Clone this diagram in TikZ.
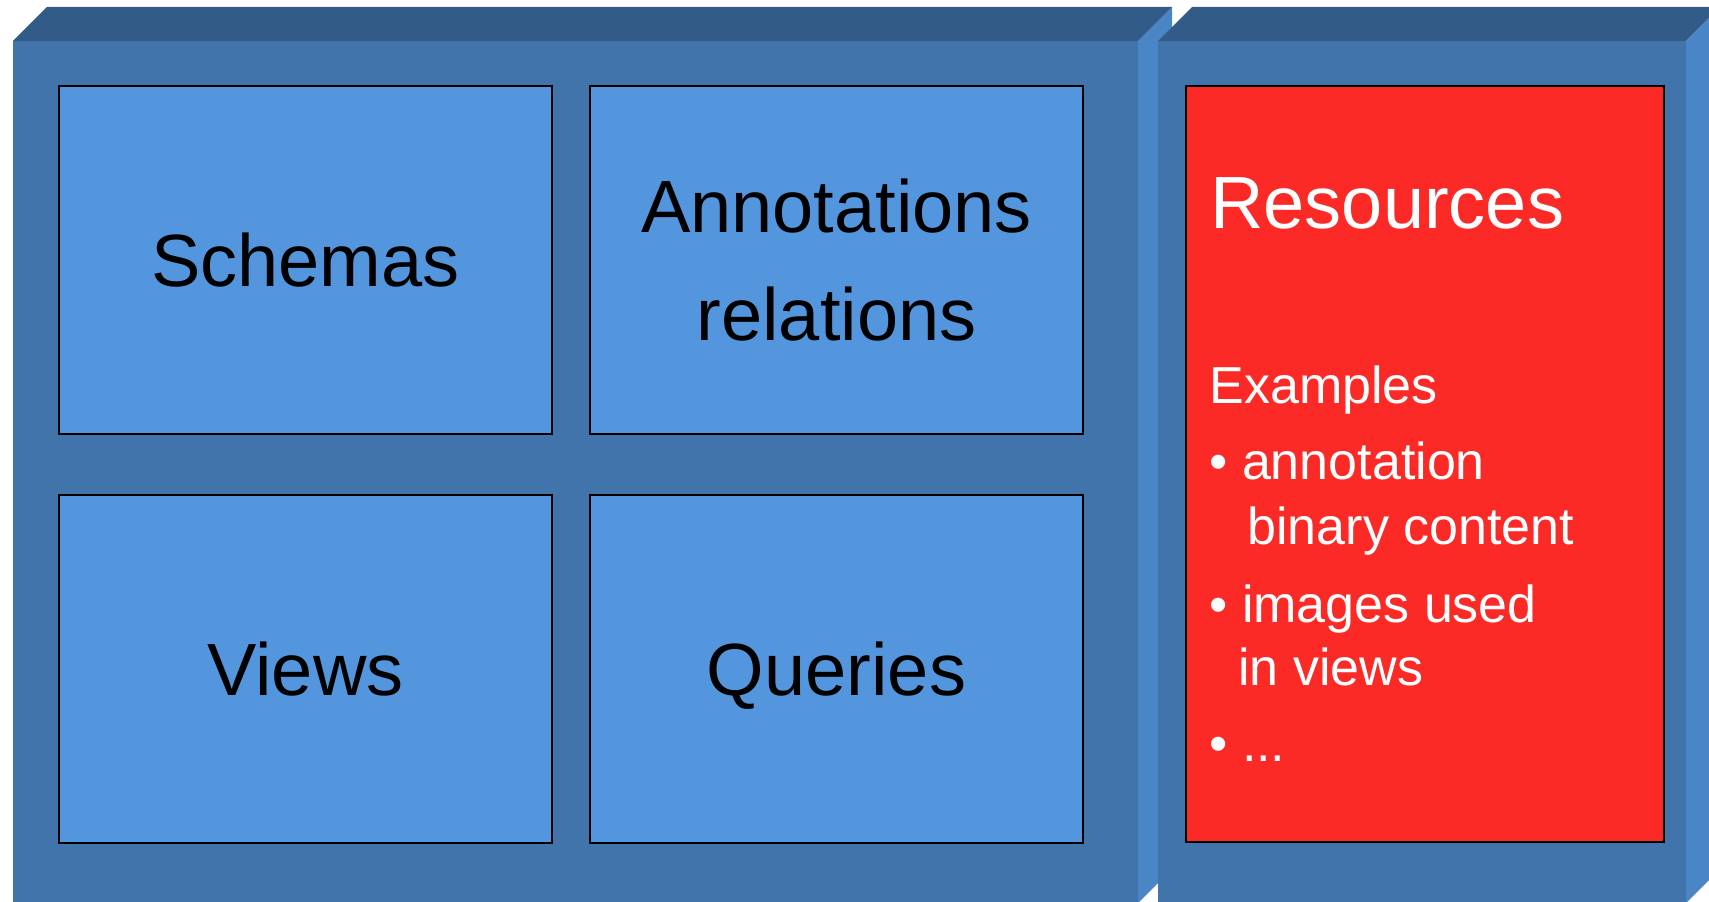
\documentclass[tikz,border=0pt]{standalone}
\usepackage{fontspec}
\setmainfont{Liberation Sans}
\usetikzlibrary{positioning}
\definecolor{frontblue}{HTML}{4174AA}
\definecolor{topblue}{HTML}{325C87}
\definecolor{sideblue}{HTML}{4A86C5}
\definecolor{cellblue}{HTML}{5496DE}
\definecolor{resred}{HTML}{FC2A26}

\begin{document}
\begin{tikzpicture}[x=0.5pt,y=0.5pt,
  cell/.style={rectangle,draw=black,fill=cellblue,line width=0.7pt,
  minimum width=246.5pt,minimum height=174pt,inner sep=0pt,outer sep=0pt,
  font=\fontsize{37}{54}\selectfont,align=center,text depth=0pt},
  big label/.style={anchor=base west,inner sep=0pt,text=white,
  font=\fontsize{37}{54}\selectfont},
  item label/.style={anchor=base west,inner sep=0pt,text=white,
  font=\fontsize{26}{32}\selectfont}]
\useasboundingbox (0,0) rectangle (1709,901);
\clip (0,0) rectangle (1709,901);
\fill[sideblue] (1138,860) -- (1172,894) -- (1172,32) -- (1138,-2) -- cycle;
\fill[topblue] (13,860) -- (47,894) -- (1172,894) -- (1138,860) -- cycle;
\fill[frontblue] (13,-2) rectangle (1138,860);
\fill[frontblue] (1158,-2) rectangle (1686,860);
\fill[topblue] (1158,860) -- (1192,894) -- (1720,894) -- (1686,860) -- cycle;
\fill[sideblue] (1686,860) -- (1720,894) -- (1720,32) -- (1686,-2) -- cycle;

\node[cell] (schemas) at (305.5,641) {Schemas};
\node[cell,right=19pt of schemas] (annot) {Annotations\\relations};
\node[cell,below=30.5pt of schemas] (views) {Views};
\node[cell,right=19pt of views] (queries) {Queries};

\node[rectangle,draw=black,fill=resred,line width=1pt,minimum width=239pt,
  minimum height=378pt,inner sep=0pt] (res) at (1425,437) {};
\node[big label] (restitle) at (1210,672) {Resources};
\node[item label] (examples) at (1209,497) {Examples};
\node[item label] (item1) at (1209,421) {• annotation};
\node[item label] (item1b) at (1247,357) {binary content};
\node[item label] (item2) at (1209,279) {• images used};
\node[item label] (item2b) at (1238,216) {in views};
\node[item label] (item3) at (1209,140) {• ...};
\end{tikzpicture}
\end{document}
